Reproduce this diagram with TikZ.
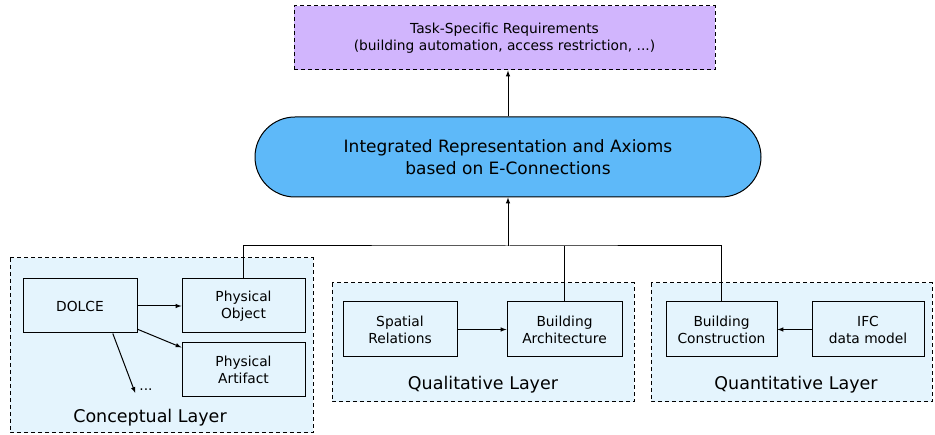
\documentclass[tikz,border=0pt]{standalone}
\usepackage{fontspec}
\setmainfont{DejaVu Sans}
\usepackage{tikz}
\definecolor{reqcol}{RGB}{209,181,253}
\definecolor{corecol}{RGB}{94,185,249}
\definecolor{layercol}{RGB}{228,244,253}
\newcommand{\smalltext}{\fontsize{13.8}{17}\selectfont}
\newcommand{\bigtext}{\fontsize{17}{22}\selectfont}
\tikzstyle{block}=[draw, line width=1pt, fill=layercol, align=center, inner sep=0pt, minimum height=54pt, font=\smalltext]
\tikzstyle{layerbox}=[draw, line width=1pt, dash pattern=on 4pt off 3pt, fill=layercol]
\tikzstyle{label}=[font=\fontsize{17.5}{20}\selectfont]

\begin{document}
\begin{tikzpicture}[x=1pt, y=-1pt]
        \useasboundingbox (0, 0) rectangle (935, 435);
        \node[draw, line width=1pt, dash pattern=on 4pt off 3pt, fill=reqcol, align=center, minimum width=421pt, minimum height=64pt, font=\smalltext] (req) at (504.5, 38) {Task-Specific Requirements\\(building automation, access restriction, ...)};
        \node[draw, line width=1pt, fill=corecol, rounded corners=40pt, align=center, minimum width=506pt, minimum height=80pt, font=\bigtext] (integ) at (508, 157) {Integrated Representation and Axioms\\based on E-Connections};
        \draw[layerbox] (10, 258) rectangle (313, 433);
        \draw[layerbox] (332, 283) rectangle (634, 402);
        \draw[layerbox] (651, 283) rectangle (932, 402);
        \node[label] (conc) at (150, 418) {Conceptual Layer};
        \node[label] (qual) at (483, 385) {Qualitative Layer};
        \node[label] (quan) at (796, 385) {Quantitative Layer};
        \node[block, minimum width=114pt] (dolce) at (80, 306) {DOLCE};
        \node[block, minimum width=123pt] (physobj) at (243.5, 306) {Physical\\Object};
        \node[block, minimum width=123pt] (physart) at (243.5, 370) {Physical\\Artifact};
        \node[font=\smalltext, inner sep=0pt] (dots) at (146, 390) {...};
        \node[block, minimum width=114pt, minimum height=55pt] (spatial) at (400, 329.5) {Spatial\\Relations};
        \node[block, minimum width=115pt, minimum height=55pt] (buildarch) at (564.5, 329.5) {Building\\Architecture};
        \node[block, minimum width=111pt, minimum height=55pt] (buildcon) at (721.5, 329.5) {Building\\Construction};
        \node[block, minimum width=112pt, minimum height=55pt] (ifc) at (868, 329.5) {IFC\\data model};
        \coordinate (bus) at (508, 246);
        \draw[line width=1pt, -latex] (dolce) -- (physobj);
        \draw[line width=1pt, -latex] (dolce.-22) -- (physart.160);
        \draw[line width=1pt, -latex] (dolce.-40) -- ([xshift=-4pt, yshift=-4pt]dots.north west);
        \draw[line width=1pt, -latex] (spatial) -- (buildarch);
        \draw[line width=1pt, -latex] (ifc) -- (buildcon);
        \draw[line width=1pt] (physobj.north) |- (bus) -| (buildcon.north);
        \draw[line width=1pt] (buildarch.north) -- (buildarch.north |- bus);
        \draw[line width=1pt, -latex] (bus) -- (integ.south);
        \draw[line width=1pt, -latex] (integ.north) -- (integ.north |- req.south);
    \end{tikzpicture}
\end{document}
